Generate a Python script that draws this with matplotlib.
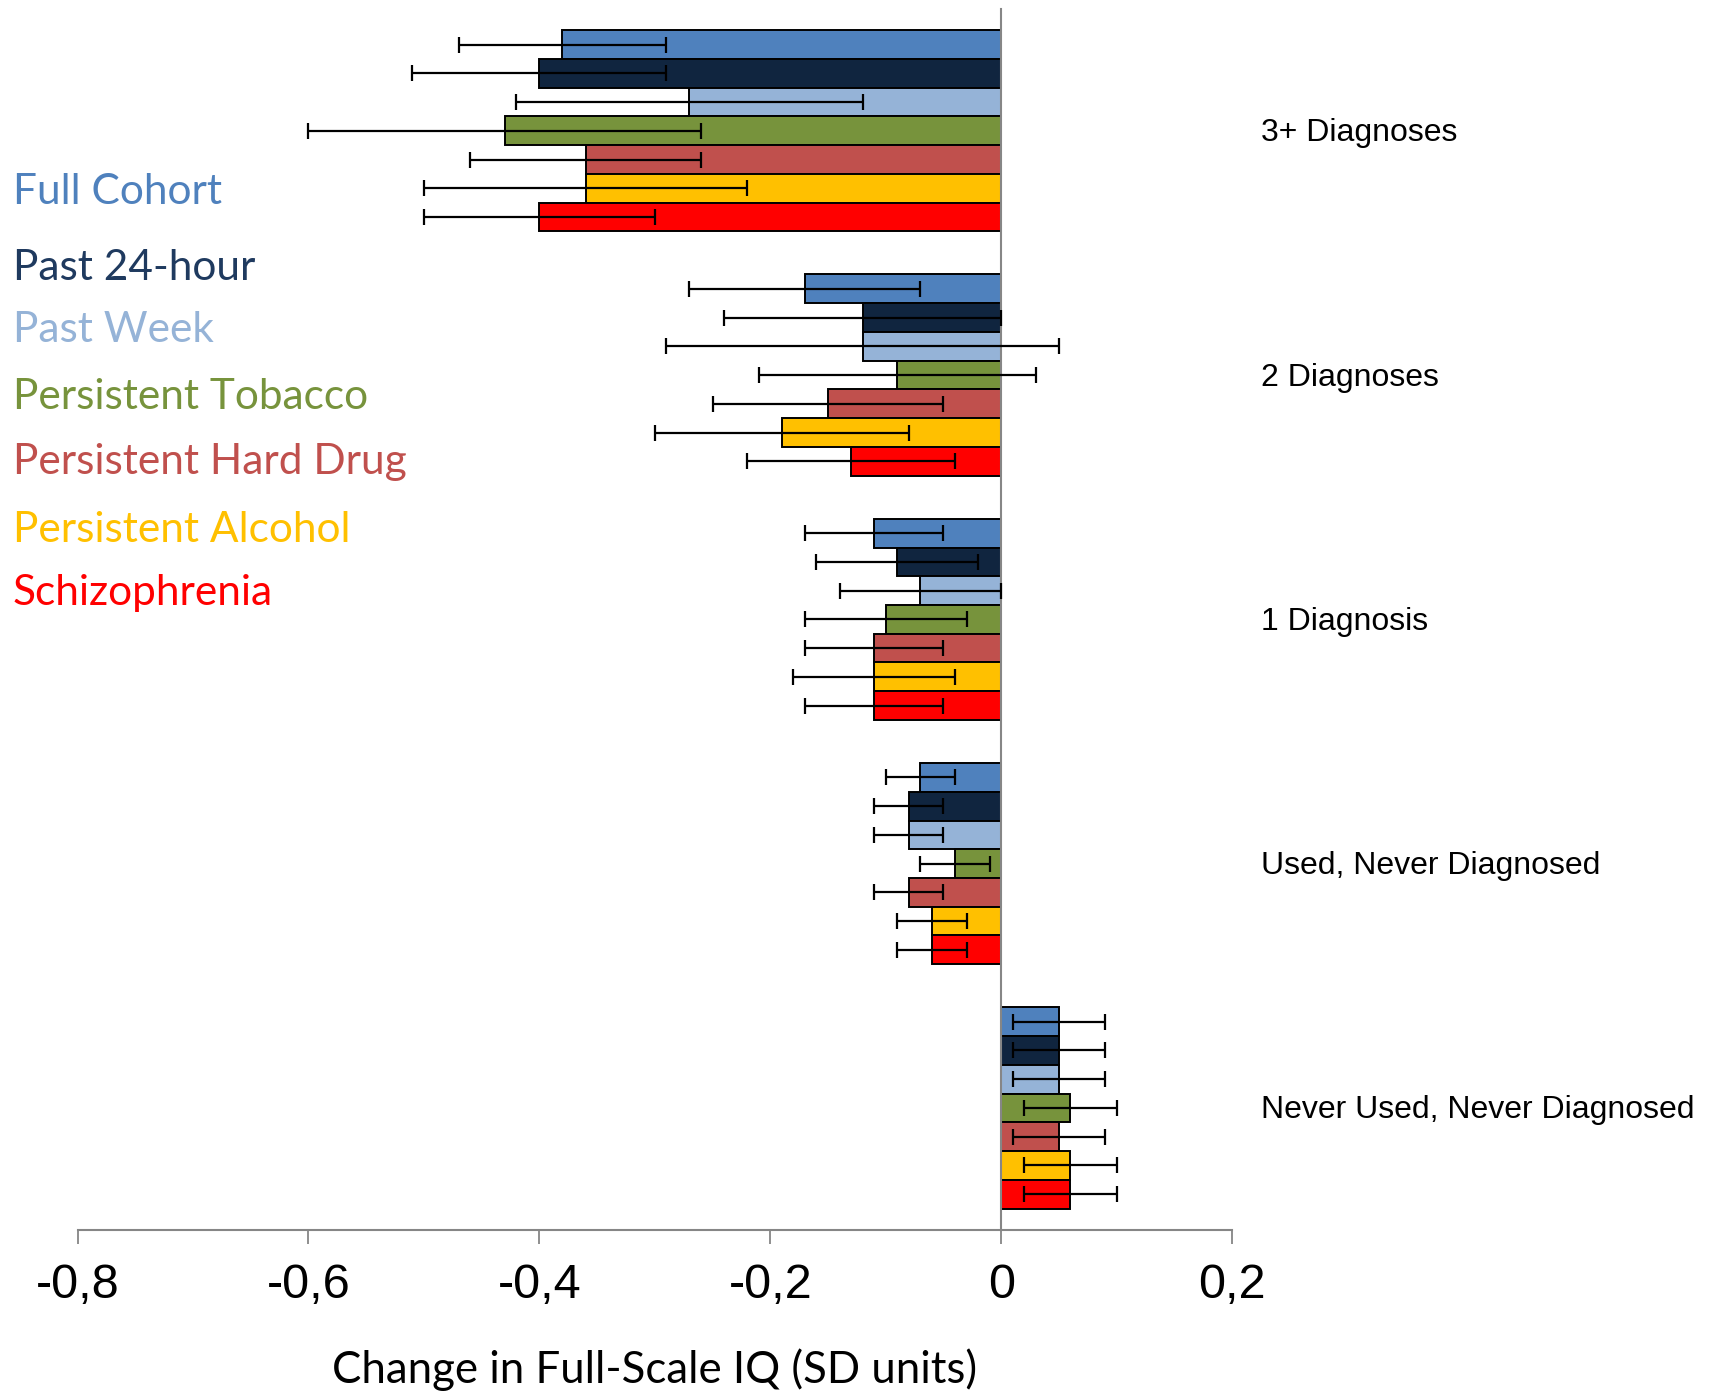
import matplotlib.pyplot as plt
import numpy as np

# groups, top to bottom
groups = ['3+ Diagnoses', '2 Diagnoses', '1 Diagnosis',
          'Used, Never Diagnosed', 'Never Used, Never Diagnosed']
series = ['Full Cohort', 'Past 24-hour', 'Past Week', 'Persistent Tobacco',
          'Persistent Hard Drug', 'Persistent Alcohol', 'Schizophrenia']
colors = ['#4F81BD', '#10253F', '#95B3D7', '#77933C',
          '#C0504D', '#FFC000', '#FF0000']
label_colors = ['#4F81BD', '#1F3A5F', '#95B3D7', '#77933C',
                '#C0504D', '#FFC000', '#FF0000']

# effect per series, one value per group (same order as groups)
full_cohort = [-0.38, -0.17, -0.11, -0.07, 0.05]
past_24h    = [-0.40, -0.12, -0.09, -0.08, 0.05]
past_week   = [-0.27, -0.12, -0.07, -0.08, 0.05]
tobacco     = [-0.43, -0.09, -0.10, -0.04, 0.06]
hard_drug   = [-0.36, -0.15, -0.11, -0.08, 0.05]
alcohol     = [-0.36, -0.19, -0.11, -0.06, 0.06]
schizo      = [-0.40, -0.13, -0.11, -0.06, 0.06]

# confidence limits (low, high)
lo = [
    [-0.47, -0.27, -0.17, -0.10, 0.01],
    [-0.51, -0.24, -0.16, -0.11, 0.01],
    [-0.42, -0.29, -0.14, -0.11, 0.01],
    [-0.60, -0.21, -0.17, -0.07, 0.02],
    [-0.46, -0.25, -0.17, -0.11, 0.01],
    [-0.50, -0.30, -0.18, -0.09, 0.02],
    [-0.50, -0.22, -0.17, -0.09, 0.02],
]
hi = [
    [-0.29, -0.07, -0.05, -0.04, 0.09],
    [-0.29, 0.00, -0.02, -0.05, 0.09],
    [-0.12, 0.05, 0.00, -0.05, 0.09],
    [-0.26, 0.03, -0.03, -0.01, 0.10],
    [-0.26, -0.05, -0.05, -0.05, 0.09],
    [-0.22, -0.08, -0.04, -0.03, 0.10],
    [-0.30, -0.04, -0.05, -0.03, 0.10],
]
values = [full_cohort, past_24h, past_week, tobacco, hard_drug, alcohol, schizo]

fig = plt.figure(figsize=(17.11, 13.94), dpi=100)
ax = fig.add_axes([0.0453, 0.1176, 0.6748, 0.8762])

n = len(series)
h = 1 / (n + 1.5)
centers = np.arange(len(groups))[::-1]

for i in range(n):
    y = centers + (n / 2 - 0.5 - i) * h
    v = np.array(values[i])
    err = [v - np.array(lo[i]), np.array(hi[i]) - v]
    ax.barh(y, v, height=h, color=colors[i], edgecolor='black', linewidth=1.4, zorder=2)
    ax.errorbar(v, y, xerr=err, fmt='none', ecolor='black', elinewidth=1.6,
                capsize=6, capthick=1.6, zorder=4)

ax.set_xlim(-0.8, 0.2)
ax.set_ylim(-0.5, len(groups) - 0.5)
ax.set_xticks([-0.8, -0.6, -0.4, -0.2, 0, 0.2])
ax.set_xticklabels(['-0,8', '-0,6', '-0,4', '-0,2', '0', '0,2'],
                   fontsize=35, family='Liberation Sans')
ax.tick_params(axis='x', length=10, width=1.3, color='#868686', pad=14)
ax.set_yticks([])

for s in ['top', 'right']:
    ax.spines[s].set_visible(False)
ax.spines['bottom'].set_color('#868686')
ax.spines['bottom'].set_linewidth(1.5)
ax.spines['left'].set_position(('data', 0))
ax.spines['left'].set_color('#868686')
ax.spines['left'].set_linewidth(1.5)
ax.spines['left'].set_zorder(3)

ax.set_xlabel('Change in Full-Scale IQ (SD units)', fontsize=31.5, family='Lato',
              labelpad=29)

# group names to the right of the plot
for g, c in zip(groups, centers):
    ax.text(0.225, c - 0.01, g, fontsize=23, family='Liberation Sans', va='center',
            ha='left', clip_on=False)

# coloured series names on the left
legend_y = [192, 268, 330, 397, 462, 530, 593]
for name, col, py in zip(series, label_colors, legend_y):
    fig.text(13 / 1711, 1 - py / 1394, name, color=col, fontsize=30.5,
             family='Lato', va='center', ha='left')

fig.savefig('out.png', dpi=100)
